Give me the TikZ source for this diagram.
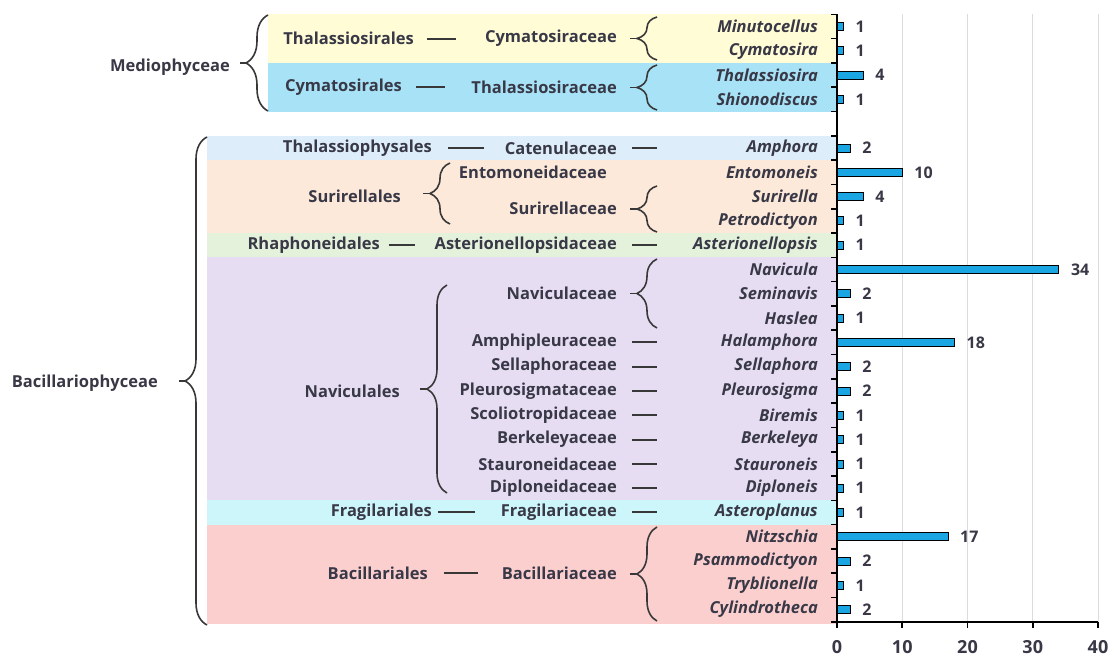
\documentclass[tikz,border=0pt]{standalone}
\usepackage{fontspec}
\setmainfont{Open Sans}
\usetikzlibrary{decorations.pathreplacing}
\definecolor{txt}{HTML}{383846}
\definecolor{brcol}{HTML}{383838}
\definecolor{barc}{HTML}{1AA6E2}
\definecolor{gridc}{HTML}{DCDCDC}
\definecolor{cY}{HTML}{FFFCD6}
\definecolor{cB}{HTML}{A8E2F7}
\definecolor{cTh}{HTML}{DDEEFA}
\definecolor{cSu}{HTML}{FDE9DA}
\definecolor{cRh}{HTML}{E4F2DC}
\definecolor{cNa}{HTML}{E7DDF3}
\definecolor{cFr}{HTML}{CCF6FA}
\definecolor{cBa}{HTML}{FCCFCF}
\begin{document}
\begin{tikzpicture}[x=1pt,y=-1pt,
  lab/.style={font=\bfseries\fontsize{16.5}{19}\selectfont, text=txt, inner sep=0pt, anchor=east},
  gen/.style={font=\bfseries\itshape\fontsize{16.5}{19}\selectfont, text=txt, inner sep=0pt, anchor=east},
  val/.style={font=\bfseries\fontsize{16}{19}\selectfont, text=txt, inner sep=0pt, anchor=west},
  tlab/.style={font=\bfseries\fontsize{18}{21}\selectfont, text=txt, inner sep=0pt},
  dsh/.style={draw=brcol, line width=1.8pt},
  brc/.style={draw=brcol, line width=1.6pt, decorate, decoration={brace, amplitude=20pt}},
  bigbrc/.style={draw=brcol, line width=1.6pt, decorate, decoration={brace, amplitude=22pt}},
  barbox/.style={draw=black, line width=0.8pt, fill=barc},
  axisline/.style={draw=black, line width=1.6pt},
  gridline/.style={draw=gridc, line width=0.9pt}]
\useasboundingbox (0,0) rectangle (1114,660);
\fill[white] (0,0) rectangle (1114,660);
% bands
\fill[cY] (268,14.35) rectangle (837,62.95);
\fill[cB] (268,62.95) rectangle (837,111.55);
\fill[cTh] (207,135.85) rectangle (837,160.15);
\fill[cSu] (207,160.15) rectangle (837,233.05);
\fill[cRh] (207,233.05) rectangle (837,257.35);
\fill[cNa] (207,257.35) rectangle (837,500.35);
\fill[cFr] (207,500.35) rectangle (837,524.65);
\fill[cBa] (207,524.65) rectangle (837,624);
% grid
\foreach \k in {1,2,3,4}{
  \draw[gridline] ({837+65.25*\k},14.35) -- ({837+65.25*\k},621.85);
}
% genus, bars, values
\foreach \i/\g/\v in {0/Minutocellus/1, 1/Cymatosira/1, 2/Thalassiosira/4, 3/Shionodiscus/1, 5/Amphora/2, 6/Entomoneis/10, 7/Surirella/4, 8/Petrodictyon/1, 9/Asterionellopsis/1, 10/Navicula/34, 11/Seminavis/2, 12/Haslea/1, 13/Halamphora/18, 14/Sellaphora/2, 15/Pleurosigma/2, 16/Biremis/1, 17/Berkeleya/1, 18/Stauroneis/1, 19/Diploneis/1, 20/Asteroplanus/1, 21/Nitzschia/17, 22/Psammodictyon/2, 23/Tryblionella/1, 24/Cylindrotheca/2}{
  \pgfmathsetmacro\yy{26.5+24.3*\i}
  \pgfmathsetmacro\xe{837+6.525*\v}
  \node[gen] (g\i) at (818,\yy) {\g};
  \draw[barbox] (837,{\yy-4}) rectangle (\xe,{\yy+4});
  \node[val] (v\i) at ({\xe+12},\yy) {\v};
}
% axes
\draw[axisline] (837,14.35) -- (837,621.85) -- (1098,621.85);
\foreach \i in {0,...,25}{
  \draw[axisline] (837,{14.35+24.3*\i}) -- (831,{14.35+24.3*\i});
}
\foreach \k in {0,1,2,3,4}{
  \draw[axisline] ({837+65.25*\k},621.85) -- ({837+65.25*\k},628);
  \node[tlab] (t\k) at ({837+65.25*\k},647) {\pgfmathparse{int(10*\k)}\pgfmathresult};
}
% families
\node[lab] (fCym) at (617,38.65) {Cymatosiraceae};
\node[lab] (fTha) at (617,87.25) {Thalassiosiraceae};
\node[lab] (fCat) at (617,148) {Catenulaceae};
\node[lab] (fEnt) at (607,172.3) {Entomoneidaceae};
\node[lab] (fSur) at (617,208.75) {Surirellaceae};
\node[lab] (fAst) at (617,245.2) {Asterionellopsidaceae};
\node[lab] (fNav) at (617,293.8) {Naviculaceae};
\node[lab] (fAmp) at (617,342.4) {Amphipleuraceae};
\node[lab] (fSel) at (617,366.7) {Sellaphoraceae};
\node[lab] (fPle) at (617,391.0) {Pleurosigmataceae};
\node[lab] (fSco) at (617,415.3) {Scoliotropidaceae};
\node[lab] (fBer) at (617,439.6) {Berkeleyaceae};
\node[lab] (fSta) at (617,463.9) {Stauroneidaceae};
\node[lab] (fDip) at (617,488.2) {Diploneidaceae};
\node[lab] (fFra) at (617,512.2) {Fragilariaceae};
\node[lab] (fBac) at (617,573.25) {Bacillariaceae};
\foreach \f in {fCat,fAst,fAmp,fSel,fPle,fSco,fBer,fSta,fDip,fFra}{
  \draw[dsh] ([xshift=15pt]\f.east) -- ([xshift=40pt]\f.east);
}
% orders
\node[lab] (oThal) at (414,38.65) {Thalassiosirales};
\node[lab] (oCym) at (402,87.25) {Cymatosirales};
\node[lab] (oThph) at (432,148) {Thalassiophysales};
\node[lab] (oSur) at (401,196) {Surirellales};
\node[lab] (oRha) at (380,245.2) {Rhaphoneidales};
\node[lab] (oNav) at (400,391) {Naviculales};
\node[lab] (oFra) at (432,512.2) {Fragilariales};
\node[lab] (oBac) at (428,573.25) {Bacillariales};
\draw[dsh] ([xshift=13pt]oThal.east) -- ([xshift=42pt]oThal.east);
\draw[dsh] ([xshift=14pt]oCym.east) -- ([xshift=43pt]oCym.east);
\draw[dsh] ([xshift=16pt]oThph.east) -- ([xshift=52pt]oThph.east);
\draw[dsh] ([xshift=9pt]oRha.east) -- ([xshift=35pt]oRha.east);
\draw[dsh] ([xshift=6pt]oFra.east) -- ([xshift=43pt]oFra.east);
\draw[dsh] ([xshift=16pt]oBac.east) -- ([xshift=50pt]oBac.east);
% classes
\node[lab] (cMed) at (230,67) {Mediophyceae};
\node[lab] (cBac) at (158,383) {Bacillariophyceae};
% braces
\coordinate (bMedB) at (268,111); \coordinate (bMedT) at (268,15);
\draw[bigbrc] (bMedB) -- (bMedT);
\draw[dsh,line width=1.6pt] (246,63) -- (240,63);
\coordinate (bBacB) at (207,625); \coordinate (bBacT) at (207,137);
\draw[bigbrc] (bBacB) -- (bBacT);
\draw[dsh,line width=1.6pt] (185,381) -- (179,381);
\foreach \yb/\yt/\xx in {60/17/657, 110/65/657, 232/186/657, 328/259/657, 621/527/657, 224/163/450, 493/285/447}{
  \draw[brc] (\xx,\yb) -- (\xx,\yt);
  \draw[dsh,line width=1.6pt] ({\xx-20},{(\yb+\yt)/2}) -- ({\xx-27},{(\yb+\yt)/2});
}
\end{tikzpicture}
\end{document}
